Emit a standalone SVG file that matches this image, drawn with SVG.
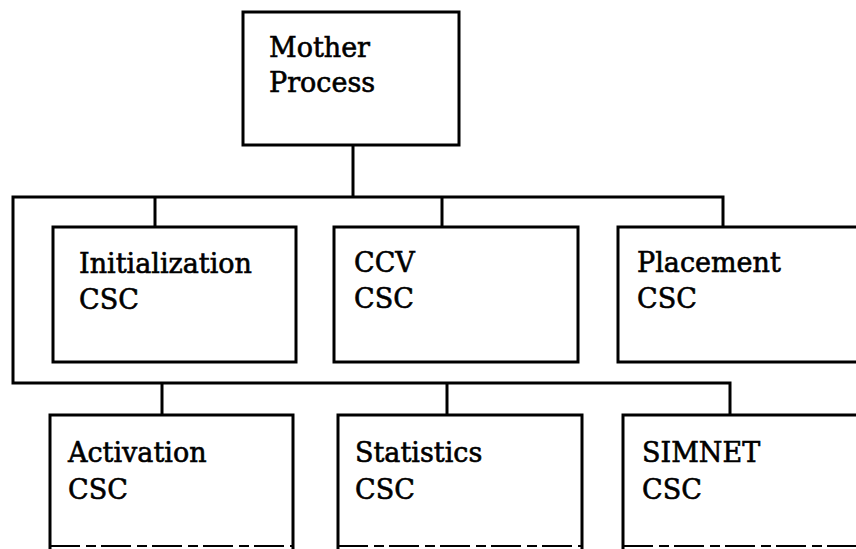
<svg xmlns="http://www.w3.org/2000/svg" width="856" height="549" viewBox="0 0 856 549">
<style>
.box{fill:#fff;stroke:#000;stroke-width:3}
.ln{fill:none;stroke:#000;stroke-width:3}
.open{fill:none;stroke:#000;stroke-width:3}
.btm{fill:none;stroke:#000;stroke-width:2;stroke-dasharray:30 6 10 5}
text{font-family:"DejaVu Serif","Liberation Serif",serif;font-size:27px;fill:#000;stroke:#000;stroke-width:0.6}
</style>
<rect width="856" height="549" fill="#fff"/>
<g id="connectors">
<path class="ln" d="M353 145 V197"/>
<path class="ln" d="M723 226 V197 H13 V383 H730 V415"/>
<path class="ln" d="M155 197 V227"/>
<path class="ln" d="M442 197 V227"/>
<path class="ln" d="M162 383 V415"/>
<path class="ln" d="M447 383 V415"/>
</g>
<g id="mother">
<rect class="box" x="243" y="12" width="216" height="133"/>
<text x="269" y="57">Mother</text>
<text x="269" y="92">Process</text>
</g>
<g id="initialization">
<rect class="box" x="53" y="227" width="243" height="135"/>
<text x="79" y="273">Initialization</text>
<text x="79" y="309">CSC</text>
</g>
<g id="ccv">
<rect class="box" x="334" y="227" width="244" height="135"/>
<text x="354" y="272">CCV</text>
<text x="354" y="308">CSC</text>
</g>
<g id="placement">
<path class="open" d="M860 227 H618 V362 H860"/>
<text x="637" y="272">Placement</text>
<text x="637" y="308">CSC</text>
</g>
<g id="activation">
<path class="open" d="M50 549 V415 H293 V549"/>
<path class="btm" d="M50 546 H293"/>
<text x="68" y="462">Activation</text>
<text x="68" y="499">CSC</text>
</g>
<g id="statistics">
<path class="open" d="M338 549 V415 H582 V549"/>
<path class="btm" d="M338 546 H582"/>
<text x="355" y="462">Statistics</text>
<text x="355" y="499">CSC</text>
</g>
<g id="simnet">
<path class="open" d="M623 549 V415 H860"/>
<path class="btm" d="M623 546 H860"/>
<text x="642" y="462">SIMNET</text>
<text x="642" y="499">CSC</text>
</g>
</svg>
